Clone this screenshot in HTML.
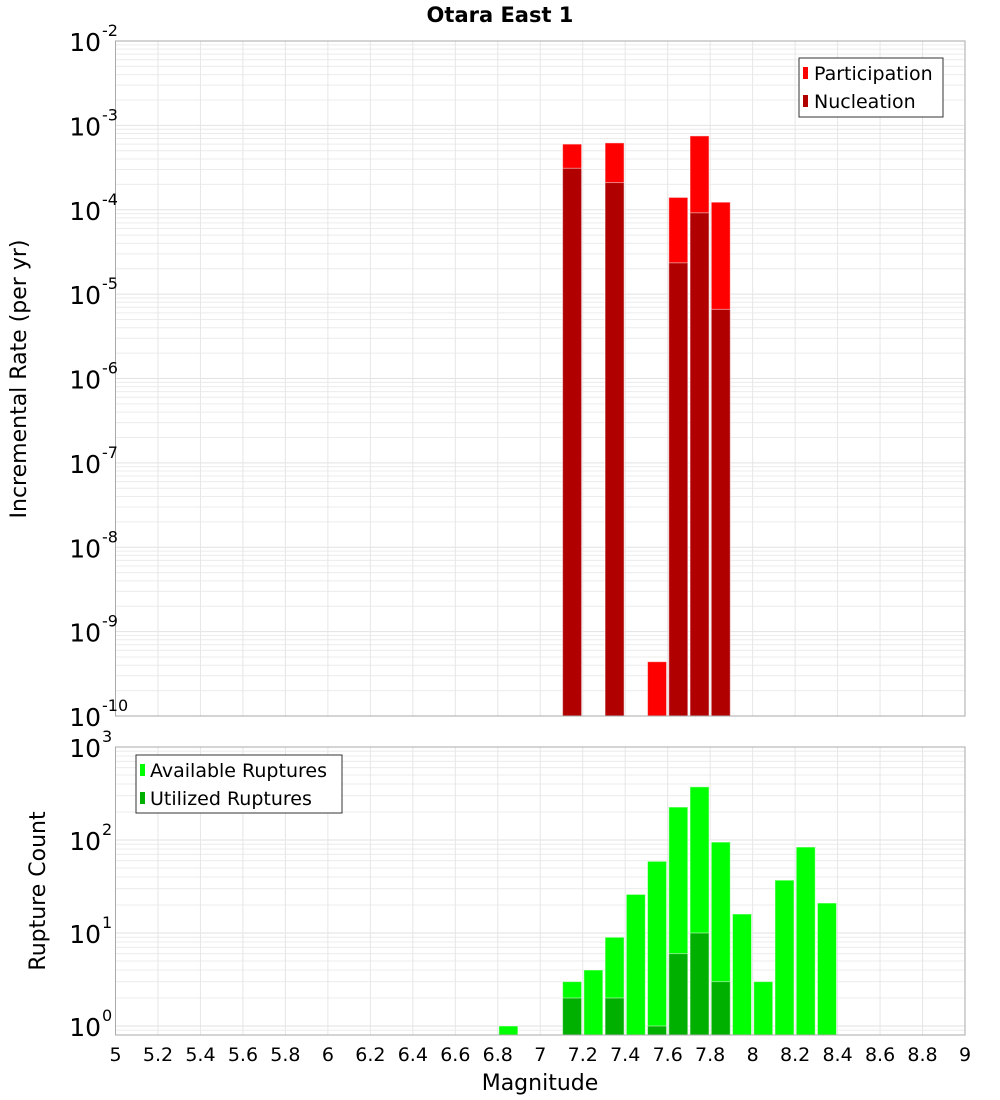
<!DOCTYPE html>
<html><head><meta charset="utf-8"><style>
body{margin:0;background:#fff}
svg{display:block;font-family:"DejaVu Sans","Liberation Sans",sans-serif}
</style></head><body>
<svg id="chart" width="1000" height="1100" xmlns="http://www.w3.org/2000/svg">
<text x="500" y="22" text-anchor="middle" font-size="21" font-weight="bold">Otara East 1</text>
<g id="topPlot"></g>
<g id="botPlot"></g>
<text transform="translate(26,379) rotate(-90)" text-anchor="middle" font-size="22">Incremental Rate (per yr)</text>
<text transform="translate(45,891) rotate(-90)" text-anchor="middle" font-size="22">Rupture Count</text>
<text x="540" y="1090" text-anchor="middle" font-size="22">Magnitude</text>
<g>
<rect x="799" y="58" width="144" height="59" fill="#fff" stroke="#333"/>
<rect x="803" y="67" width="5" height="12" fill="#ff0000"/>
<text x="814" y="80" font-size="19">Participation</text>
<rect x="803" y="95" width="5" height="12" fill="#b00000"/>
<text x="814" y="108" font-size="19">Nucleation</text>
</g>
<g>
<rect x="136" y="755" width="206" height="58" fill="#fff" stroke="#333"/>
<rect x="140" y="764" width="5" height="12" fill="#00ff00"/>
<text x="150" y="777" font-size="19">Available Ruptures</text>
<rect x="140" y="792" width="5" height="12" fill="#00b000"/>
<text x="150" y="805" font-size="19">Utilized Ruptures</text>
</g>
</svg>
<script>
const NS="http://www.w3.org/2000/svg";
const topMags=[7.15,7.35,7.55,7.65,7.75,7.85];
const participation=[6.0e-4,6.2e-4,4.4e-10,1.4e-4,7.5e-4,1.23e-4];
const nucleation=[3.1e-4,2.1e-4,0,2.35e-5,9.2e-5,6.6e-6];
const botMags=[6.85,7.15,7.25,7.35,7.45,7.55,7.65,7.75,7.85,7.95,8.05,8.15,8.25,8.35];
const available=[1,3,4,9,26,59,226,373,95,16,3,37,84,21];
const utilized=[0,2,0,2,0,1,6,10,3,0,0,0,0,0];
const xTicks=["5","5.2","5.4","5.6","5.8","6","6.2","6.4","6.6","6.8","7","7.2","7.4","7.6","7.8","8","8.2","8.4","8.6","8.8","9"];
const topExps=[-2,-3,-4,-5,-6,-7,-8,-9,-10];
const botExps=[3,2,1,0];

const X0=115.5,X1=965,xMin=5,xMax=9;
const xs=v=>X0+(v-xMin)/(xMax-xMin)*(X1-X0);
const topY=v=>41+(-2-Math.log10(v))*84.375;
const botY=v=>1026-Math.log10(v)*93;
function el(p,tag,a){const e=document.createElementNS(NS,tag);for(const k in a)e.setAttribute(k,a[k]);p.appendChild(e);return e;}

function frame(g,yT,yB,yf,eLo,eHi,lo,hi){
  el(g,'rect',{x:X0,y:yT,width:X1-X0,height:yB-yT,fill:'#fff'});
  for(let e=eLo;e<=eHi;e++)for(let m=1;m<10;m++){const v=m*Math.pow(10,e);if(v<lo||v>hi)continue;const yy=yf(v);
    const l=el(g,'line',{x1:X0,x2:X1,y1:yy,y2:yy,stroke:m==1?'#e2e2e2':'#ececec','stroke-width':1});
    
    }
  xTicks.forEach(t=>{const xx=xs(+t);const l=el(g,'line',{x1:xx,x2:xx,y1:yT,y2:yB,stroke:'#e6e6e6'});
    
    });
}
function border(g,yT,yB){const r=el(g,'rect',{x:X0,y:yT,width:X1-X0,height:yB-yT,fill:'none',stroke:'#aaa'});
  
  }
function ylab(g,e,yy){const t=el(g,'text',{x:101,y:yy+10,'text-anchor':'end','font-size':25});t.textContent='10';
  
  
  const s=el(g,'text',{x:102,y:yy-5,'font-size':16});s.textContent=String(e);
  
  }
function bar(g,m,v,yf,yB,fill,name){if(!v)return;const yy=yf(v);
  const r=el(g,'rect',{x:xs(m)-9.5,y:yy,width:19,height:yB-yy,fill:fill,stroke:'rgba(255,255,255,0.5)','stroke-width':1});
  
  }

const topG=document.getElementById('topPlot');
frame(topG,41,716,topY,-10,-3,1e-10,1e-2);
topMags.forEach((m,i)=>bar(topG,m,participation[i],topY,716,'#ff0000','participation-bar'));
topMags.forEach((m,i)=>bar(topG,m,nucleation[i],topY,716,'#b00000','nucleation-bar'));
border(topG,41,716);
topExps.forEach(e=>ylab(topG,e,topY(Math.pow(10,e))));

const botG=document.getElementById('botPlot');
frame(botG,747,1035,botY,-1,2,Math.pow(10,-0.097),1000);
botMags.forEach((m,i)=>bar(botG,m,available[i],botY,1035,'#00ff00','available-bar'));
botMags.forEach((m,i)=>bar(botG,m,utilized[i],botY,1035,'#00b000','utilized-bar'));
border(botG,747,1035);
botExps.forEach(e=>ylab(botG,e,botY(Math.pow(10,e))));
xTicks.forEach(t=>{const tx=el(botG,'text',{x:xs(+t),y:1061,'text-anchor':'middle','font-size':19});tx.textContent=t;
  
  });
</script>
</body></html>
